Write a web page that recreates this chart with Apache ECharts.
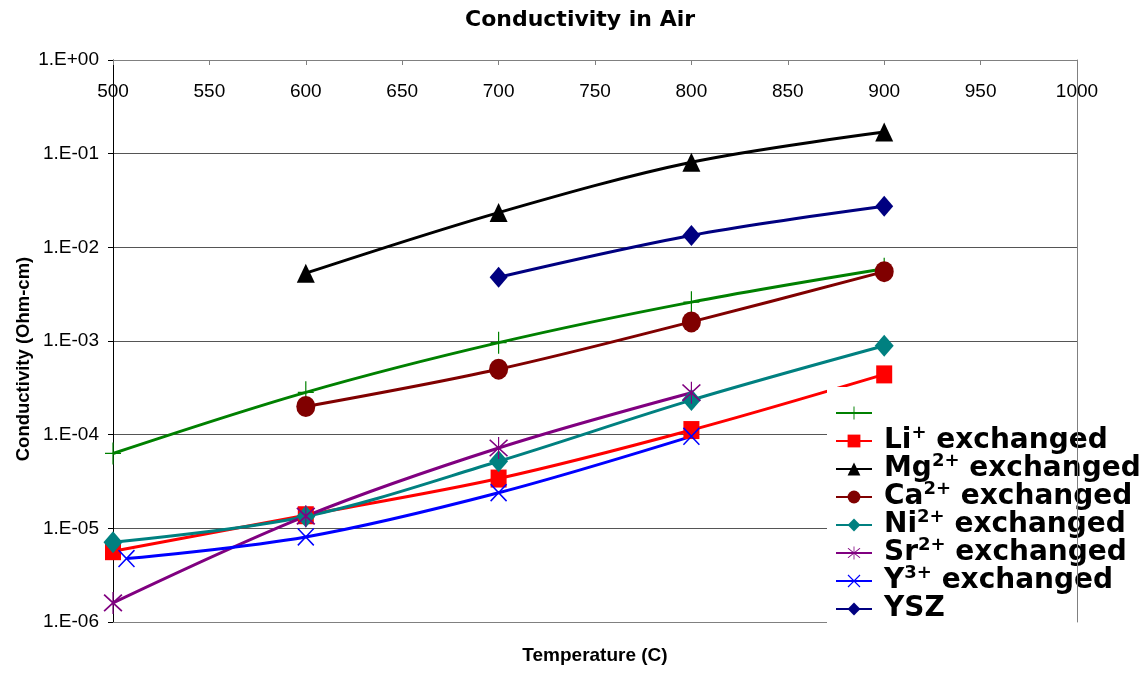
<!DOCTYPE html>
<html>
<head>
<meta charset="utf-8">
<script src="https://cdn.jsdelivr.net/npm/echarts@6/dist/echarts.min.js"></script>
<style>html,body{margin:0;padding:0;background:#fff;}#c{width:1143px;height:676px;}</style>
</head>
<body>
<div id="c"></div>
<script>
// ---- data ----
const titleText = 'Conductivity in Air';
const xName = 'Temperature (C)';
const yName = 'Conductivity (Ohm-cm)';
const xTicks = [500, 550, 600, 650, 700, 750, 800, 850, 900, 950, 1000];
const yTicks = [1e-6, 1e-5, 1e-4, 1e-3, 1e-2, 1e-1, 1];

const seriesNames = [' ', 'Li+ exchanged', 'Mg2+ exchanged', 'Ca2+ exchanged', 'Ni2+ exchanged', 'Sr2+ exchanged', 'Y3+ exchanged', 'YSZ'];

const tUnnamed = [500, 600, 700, 800, 900];
const vUnnamed = [6.3e-5, 2.83e-4, 9.6e-4, 2.6e-3, 5.9e-3];
const tLi = [500, 600, 700, 800, 900];
const vLi = [5.7e-6, 1.38e-5, 3.4e-5, 1.12e-4, 4.4e-4];
const tMg = [600, 700, 800, 900];
const vMg = [5.3e-3, 2.35e-2, 8.1e-2, 1.7e-1];
const tCa = [600, 700, 800, 900];
const vCa = [2.0e-4, 5.0e-4, 1.6e-3, 5.5e-3];
const tNi = [500, 600, 700, 800, 900];
const vNi = [7.1e-6, 1.34e-5, 5.2e-5, 2.34e-4, 8.9e-4];
const tSr = [500, 600, 700, 800];
const vSr = [1.6e-6, 1.35e-5, 7.2e-5, 2.8e-4];
const tY = [507, 600, 700, 800];
const vY = [4.75e-6, 8.1e-6, 2.4e-5, 9.6e-5];
const tYSZ = [700, 800, 900];
const vYSZ = [4.8e-3, 1.34e-2, 2.74e-2];

// ---- styles ----
const SANS = "'Liberation Sans', Arial, sans-serif";
const DJ = "'DejaVu Sans', sans-serif";
const plusPath = 'path://M7.4,0h1.2v22h-1.2zM0,10.4h16v1.2h-16z';
const xPath = 'path://M0,1L1,0L16,15L15,16ZM15,0L16,1L1,16L0,15Z';
const starPath = 'path://M0,1L1,0L16,15L15,16ZM15,0L16,1L1,16L0,15ZM7.5,-2L8.5,-2L8.5,18L7.5,18Z';

function pairs(t, v) { return t.map((x, i) => [x, v[i]]); }

const defs = [
  {t: tUnnamed, v: vUnnamed, color: '#008000', symbol: plusPath, size: [16, 22]},
  {t: tLi, v: vLi, color: '#FF0000', symbol: 'rect', size: [16, 18]},
  {t: tMg, v: vMg, color: '#000000', symbol: 'triangle', size: [18, 19]},
  {t: tCa, v: vCa, color: '#800000', symbol: 'circle', size: [19, 21]},
  {t: tNi, v: vNi, color: '#008080', symbol: 'diamond', size: [19, 22]},
  {t: tSr, v: vSr, color: '#800080', symbol: starPath, size: [19, 22]},
  {t: tY, v: vY, color: '#0000FF', symbol: xPath, size: [17, 18]},
  {t: tYSZ, v: vYSZ, color: '#000080', symbol: 'diamond', size: [18, 21]}
];

const series = defs.map((d, i) => ({
  name: seriesNames[i],
  type: 'line',
  xAxisIndex: 0,
  yAxisIndex: 0,
  data: pairs(d.t, d.v),
  smooth: 0.33,
  symbol: d.symbol,
  symbolSize: d.size,
  showAllSymbol: true,
  lineStyle: {color: d.color, width: 3},
  itemStyle: {color: d.color, borderWidth: 0},
  emphasis: {disabled: true},
  animation: false
}));

function expLabel(v) {
  const e = Math.round(Math.log10(v));
  const s = e < 0 ? '-' : '+';
  const a = Math.abs(e);
  return '1.E' + s + (a < 10 ? '0' : '') + a;
}

const chart = echarts.init(document.getElementById('c'), null, {renderer: 'canvas'});
chart.setOption({
  animation: false,
  backgroundColor: '#ffffff',
  title: {
    text: titleText,
    left: 465, top: 9, padding: 0,
    textStyle: {fontFamily: DJ, fontWeight: 'bold', fontSize: 22, color: '#000'}
  },
  grid: {left: 113, right: 66, top: 60, bottom: 54},
  legend: {
    data: seriesNames,
    orient: 'vertical',
    left: 827, top: 387,
    padding: [8, 8, 8, 8],
    itemGap: -8,
    itemWidth: 36,
    itemHeight: 16,
    backgroundColor: '#ffffff',
    selectedMode: false,
    formatter: function (name) {
      if (name.trim() === '') return '{b| }{s| }';
      const m = name.match(/^([A-Za-z]+)(\d*\+)(.*)$/);
      if (m) return '{b|' + m[1] + '}{s|' + m[2] + '}{b|' + m[3] + '}';
      return '{b|' + name + '}{s| }';
    },
    textStyle: {
      color: '#000', fontFamily: DJ, fontWeight: 'bold', fontSize: 28, lineHeight: 28,
      padding: [0, 0, 0, 7],
      rich: {
        b: {fontFamily: DJ, fontWeight: 'bold', fontSize: 28, lineHeight: 20, padding: [4, 0, 4, 0], color: '#000'},
        s: {fontFamily: DJ, fontWeight: 'bold', fontSize: 18, lineHeight: 12, padding: [0, 0, 16, 0], color: '#000'}
      }
    }
  },
  xAxis: [
    {
      type: 'value', position: 'top', min: xTicks[0], max: xTicks[xTicks.length - 1], interval: 50,
      axisLine: {show: true, lineStyle: {color: '#808080', width: 1}},
      axisTick: {show: true, inside: true, length: 5, lineStyle: {color: '#808080'}},
      axisLabel: {inside: true, margin: 22, color: '#000', fontFamily: SANS, fontSize: 19,
        formatter: function (v) { return String(v); }},
      splitLine: {show: false}
    },
    {
      type: 'value', position: 'bottom', min: xTicks[0], max: xTicks[xTicks.length - 1], interval: 50,
      axisLine: {show: true, onZero: false, lineStyle: {color: '#808080', width: 1}},
      axisTick: {show: false}, axisLabel: {show: false}, splitLine: {show: false},
      name: xName, nameLocation: 'middle', nameGap: 24, nameMoveOverlap: false,
      nameTextStyle: {fontFamily: SANS, fontWeight: 'bold', fontSize: 19, color: '#000'}
    }
  ],
  yAxis: [
    {
      type: 'log', logBase: 10, min: yTicks[0], max: yTicks[yTicks.length - 1], interval: 1,
      axisLine: {show: true, onZero: false, lineStyle: {color: '#000', width: 1}},
      axisTick: {show: true, length: 5, lineStyle: {color: '#000'}},
      axisLabel: {margin: 14, color: '#000', fontFamily: SANS, fontSize: 19, formatter: expLabel},
      splitLine: {show: true, lineStyle: {color: '#555', width: 1}},
      minorTick: {show: false}, minorSplitLine: {show: false},
      name: yName, nameLocation: 'middle', nameGap: 80, nameMoveOverlap: false,
      nameTextStyle: {fontFamily: SANS, fontWeight: 'bold', fontSize: 18.5, color: '#000', padding: [0, 36, 0, 0]}
    },
    {
      type: 'log', logBase: 10, position: 'right', min: yTicks[0], max: yTicks[yTicks.length - 1], interval: 1,
      z: 10,
      axisLine: {show: true, onZero: false, lineStyle: {color: '#808080', width: 1}},
      axisTick: {show: false}, axisLabel: {show: false}, splitLine: {show: false}
    }
  ],
  series: series
});
</script>
</body>
</html>
